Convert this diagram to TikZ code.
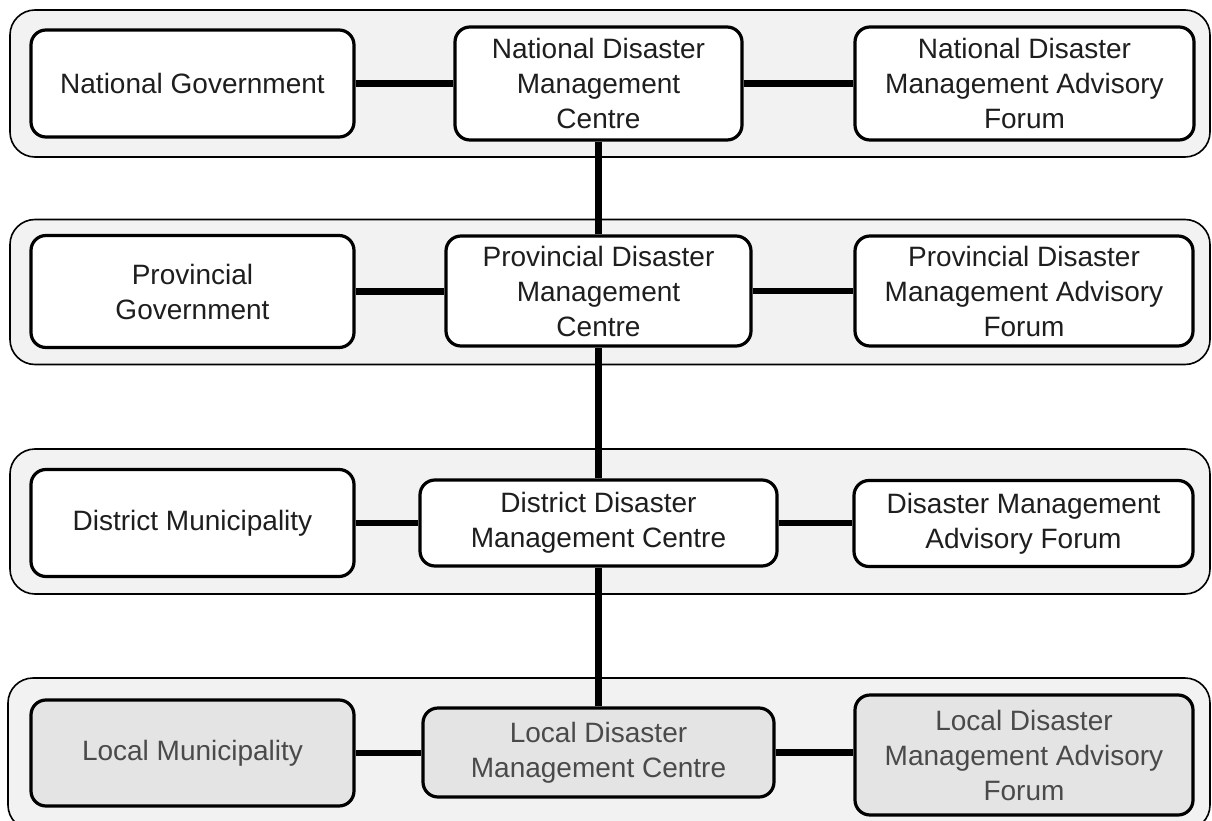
\documentclass[tikz,border=0pt]{standalone}
\usepackage{fontspec}
\setmainfont{Liberation Sans}
\definecolor{panelfill}{HTML}{F2F2F2}
\definecolor{lowfill}{HTML}{E4E4E4}
\definecolor{lowtext}{HTML}{4A4A4A}
\definecolor{toptext}{HTML}{1E1E1E}
\tikzset{
  panel/.style={draw=black, line width=1.6pt, fill=panelfill, rounded corners=25pt, inner sep=0pt},
  unitbox/.style={draw=black, line width=3.2pt, fill=white, rounded corners=15pt, align=center, inner sep=0pt,
     text=toptext, font=\fontsize{28}{35}\selectfont},
  lowbox/.style={unitbox, fill=lowfill, text=lowtext},
  link/.style={line width=6.5pt, draw=black}
}
\begin{document}
\begin{tikzpicture}[x=1pt,y=-1pt]
\useasboundingbox (0,0) rectangle (1212,821);
% panels
\node[panel, minimum width=1200pt, minimum height=147pt] (p1) at (610,83.5) {};
\node[panel, minimum width=1200pt, minimum height=145pt] (p2) at (610,292) {};
\node[panel, minimum width=1200pt, minimum height=145pt] (p3) at (610,521.5) {};
\node[panel, minimum width=1202pt, minimum height=152pt] (p4) at (609,754) {};
% row 1
\node[unitbox, minimum width=323pt, minimum height=107pt] (ng) at (192.5,83.5) {National Government};
\node[unitbox, minimum width=287pt, minimum height=113pt] (ndmc) at (598.5,83.5) {National Disaster\\Management\\Centre};
\node[unitbox, minimum width=339pt, minimum height=113pt] (ndmaf) at (1024.5,83.5) {National Disaster\\Management Advisory\\Forum};
% row 2
\node[unitbox, minimum width=323pt, minimum height=112pt] (pg) at (192.5,291.5) {Provincial\\Government};
\node[unitbox, minimum width=305pt, minimum height=110pt] (pdmc) at (598.5,291) {Provincial Disaster\\Management\\Centre};
\node[unitbox, minimum width=338pt, minimum height=110pt] (pdmaf) at (1024,291) {Provincial Disaster\\Management Advisory\\Forum};
% row 3
\node[unitbox, minimum width=323pt, minimum height=107pt] (dm) at (192.5,523) {District Municipality};
\node[unitbox, minimum width=357pt, minimum height=86pt] (ddmc) at (598.5,523) {District Disaster\\Management Centre};
\node[unitbox, minimum width=339pt, minimum height=86pt] (dmaf) at (1023.5,523.5) {Disaster Management\\Advisory Forum};
% row 4
\node[lowbox, minimum width=323pt, minimum height=106pt] (lm) at (192.5,753) {Local Municipality};
\node[lowbox, minimum width=351pt, minimum height=89pt] (ldmc) at (598.5,752.5) {Local Disaster\\Management Centre};
\node[lowbox, minimum width=338pt, minimum height=120pt] (ldmaf) at (1024,755) {Local Disaster\\Management Advisory\\Forum};
% connectors
\draw[link] (ng.east) -- (ng.east -| ndmc.west);
\draw[link] (ndmc.east) -- (ndmc.east -| ndmaf.west);
\draw[link] (pg.east) -- (pg.east -| pdmc.west);
\draw[link] (pdmc.east) -- (pdmc.east -| pdmaf.west);
\draw[link] (dm.east) -- (dm.east -| ddmc.west);
\draw[link] (ddmc.east) -- (ddmc.east -| dmaf.west);
\draw[link] (lm.east) -- (lm.east -| ldmc.west);
\draw[link] (ldmc.east) -- (ldmc.east -| ldmaf.west);
\draw[link] (ndmc.south) -- (pdmc.north);
\draw[link] (pdmc.south) -- (ddmc.north);
\draw[link] (ddmc.south) -- (ldmc.north);
\end{tikzpicture}
\end{document}
